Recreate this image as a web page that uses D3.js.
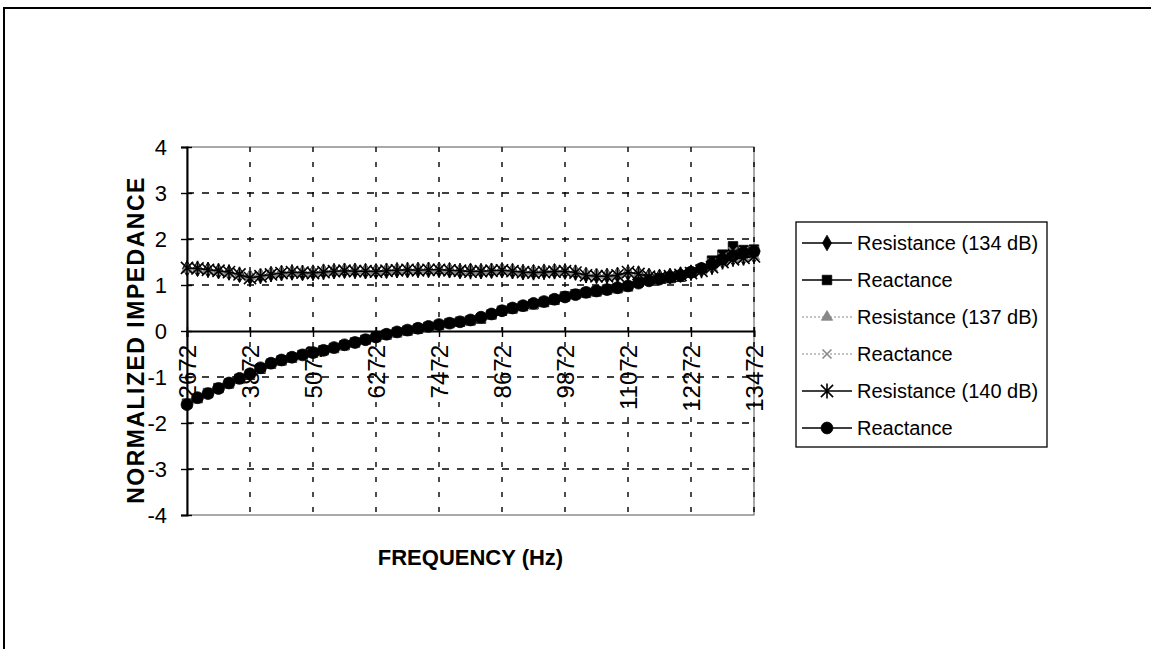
<!DOCTYPE html>
<html>
<head>
<meta charset="utf-8">
<script src="https://cdn.jsdelivr.net/npm/d3@7"></script>
<style>
  html, body { margin: 0; padding: 0; background: #fff; }
  svg { display: block; }
  text { font-family: Arial, "Liberation Sans", sans-serif; fill: #000; }
</style>
</head>
<body>
<svg id="chart" width="1151" height="649"></svg>
<script>
// Frequency categories (Hz)
const freqs = [2672, 2872, 3072, 3272, 3472, 3672, 3872, 4072, 4272, 4472, 4672, 4872,
  5072, 5272, 5472, 5672, 5872, 6072, 6272, 6472, 6672, 6872, 7072, 7272, 7472, 7672,
  7872, 8072, 8272, 8472, 8672, 8872, 9072, 9272, 9472, 9672, 9872, 10072, 10272, 10472,
  10672, 10872, 11072, 11272, 11472, 11672, 11872, 12072, 12272, 12472, 12672, 12872,
  13072, 13272, 13472];

const tickLabels = ["2672", "3872", "5072", "6272", "7472", "8672", "9872", "11072", "12272", "13472"];
const yTicks = [-4, -3, -2, -1, 0, 1, 2, 3, 4];

// Normalized impedance values
const res134 = [1.36, 1.35, 1.33, 1.30, 1.27, 1.22, 1.17, 1.20, 1.24, 1.26, 1.27, 1.26, 1.27, 1.29, 1.30,
  1.31, 1.31, 1.30, 1.30, 1.31, 1.32, 1.32, 1.33, 1.33, 1.33, 1.32, 1.30, 1.31, 1.30, 1.31, 1.32, 1.30,
  1.28, 1.28, 1.29, 1.30, 1.29, 1.27, 1.22, 1.20, 1.20, 1.22, 1.26, 1.25, 1.20, 1.18, 1.20, 1.23, 1.27,
  1.33, 1.40, 1.52, 1.58, 1.60, 1.64];
const react134 = [-1.58, -1.46, -1.35, -1.24, -1.14, -1.04, -0.95, -0.82, -0.71, -0.64, -0.58, -0.52,
  -0.47, -0.42, -0.37, -0.31, -0.25, -0.19, -0.13, -0.08, -0.03, 0.01, 0.05, 0.09, 0.13, 0.17, 0.20, 0.23,
  0.27, 0.36, 0.44, 0.49, 0.54, 0.58, 0.63, 0.68, 0.75, 0.80, 0.83, 0.86, 0.90, 0.93, 0.97, 1.07, 1.12,
  1.14, 1.15, 1.18, 1.27, 1.35, 1.53, 1.66, 1.84, 1.76, 1.77];
const res137 = [1.34, 1.34, 1.32, 1.29, 1.25, 1.21, 1.19, 1.22, 1.25, 1.27, 1.28, 1.28, 1.28, 1.30, 1.31,
  1.32, 1.32, 1.31, 1.30, 1.32, 1.33, 1.33, 1.34, 1.34, 1.34, 1.33, 1.31, 1.30, 1.31, 1.32, 1.33, 1.31,
  1.29, 1.29, 1.30, 1.31, 1.30, 1.28, 1.24, 1.22, 1.21, 1.23, 1.27, 1.24, 1.19, 1.17, 1.19, 1.22, 1.26,
  1.31, 1.38, 1.49, 1.56, 1.58, 1.62];
const react137 = [-1.59, -1.45, -1.35, -1.25, -1.14, -1.04, -0.94, -0.81, -0.71, -0.64, -0.58, -0.53,
  -0.48, -0.43, -0.37, -0.31, -0.26, -0.20, -0.14, -0.08, -0.03, 0.02, 0.06, 0.10, 0.14, 0.17, 0.21, 0.24,
  0.29, 0.37, 0.45, 0.50, 0.55, 0.59, 0.64, 0.69, 0.74, 0.79, 0.83, 0.87, 0.90, 0.94, 0.98, 1.05, 1.10,
  1.13, 1.16, 1.19, 1.27, 1.36, 1.48, 1.60, 1.72, 1.72, 1.74];
const res140 = [1.37, 1.36, 1.33, 1.31, 1.28, 1.23, 1.15, 1.19, 1.23, 1.26, 1.28, 1.27, 1.26, 1.28, 1.30,
  1.31, 1.30, 1.30, 1.29, 1.31, 1.32, 1.33, 1.32, 1.33, 1.33, 1.32, 1.31, 1.29, 1.30, 1.31, 1.32, 1.30,
  1.28, 1.27, 1.28, 1.29, 1.30, 1.27, 1.21, 1.19, 1.19, 1.21, 1.28, 1.24, 1.18, 1.16, 1.19, 1.22, 1.26,
  1.31, 1.39, 1.50, 1.56, 1.59, 1.62];
const react140 = [-1.60, -1.45, -1.36, -1.25, -1.13, -1.03, -0.93, -0.80, -0.70, -0.63, -0.57, -0.52,
  -0.47, -0.42, -0.36, -0.30, -0.25, -0.19, -0.13, -0.07, -0.02, 0.02, 0.06, 0.10, 0.14, 0.17, 0.20, 0.24,
  0.30, 0.37, 0.44, 0.50, 0.55, 0.60, 0.64, 0.69, 0.74, 0.79, 0.84, 0.87, 0.90, 0.94, 0.98, 1.04, 1.09,
  1.13, 1.17, 1.21, 1.28, 1.36, 1.45, 1.56, 1.64, 1.70, 1.73];

const seriesNames = ["Resistance (134 dB)", "Reactance", "Resistance (137 dB)", "Reactance",
  "Resistance (140 dB)", "Reactance"];
const seriesValues = [res134, react134, res137, react137, res140, react140];

// Custom asterisk marker: an X crossed by a vertical bar
const asterisk = {
  draw(ctx, size) {
    const r = Math.sqrt(size) * 0.62;
    const d = r * 0.8;
    ctx.moveTo(-d, -d); ctx.lineTo(d, d);
    ctx.moveTo(-d, d); ctx.lineTo(d, -d);
    ctx.moveTo(0, -r); ctx.lineTo(0, r);
  }
};
const cross = {
  draw(ctx, size) {
    const d = Math.sqrt(size) * 0.5;
    ctx.moveTo(-d, -d); ctx.lineTo(d, d);
    ctx.moveTo(-d, d); ctx.lineTo(d, -d);
  }
};

const styles = [
  { color: "#000", dash: null, width: 1.6, symbol: d3.symbolDiamond, size: 70, fill: true },
  { color: "#000", dash: null, width: 1.6, symbol: d3.symbolSquare, size: 90, fill: true },
  { color: "#888", dash: "2,2", width: 1.2, symbol: d3.symbolTriangle, size: 55, fill: true },
  { color: "#888", dash: "2,2", width: 1.2, symbol: cross, size: 80, fill: false },
  { color: "#000", dash: null, width: 1.6, symbol: asterisk, size: 150, fill: false },
  { color: "#000", dash: null, width: 1.6, symbol: d3.symbolCircle, size: 110, fill: true }
];

const svg = d3.select("#chart");

// Outer frame
svg.append("path")
  .attr("d", "M4,649 L4,8 L1151,8")
  .attr("fill", "none").attr("stroke", "#000").attr("stroke-width", 2);

const plot = { left: 187, right: 754, top: 147, bottom: 515 };

const x = d3.scalePoint().domain(freqs).range([plot.left, plot.right]);
const y = d3.scaleLinear().domain([-4, 4]).range([plot.bottom, plot.top]);

// Plot area border
svg.append("rect")
  .attr("x", plot.left).attr("y", plot.top)
  .attr("width", plot.right - plot.left).attr("height", plot.bottom - plot.top)
  .attr("fill", "none").attr("stroke", "#555").attr("stroke-width", 1);

// Horizontal dashed gridlines
svg.append("g").selectAll("line")
  .data(yTicks.filter(v => v !== 0 && v !== -4 && v !== 4))
  .join("line")
  .attr("x1", plot.left).attr("x2", plot.right)
  .attr("y1", d => y(d)).attr("y2", d => y(d))
  .attr("stroke", "#000").attr("stroke-width", 1.4)
  .attr("stroke-dasharray", "7,8");

// Vertical dashed gridlines at labelled frequencies
svg.append("g").selectAll("line")
  .data(tickLabels.slice(1).map(Number))
  .join("line")
  .attr("x1", d => x(d)).attr("x2", d => x(d))
  .attr("y1", plot.top).attr("y2", plot.bottom)
  .attr("stroke", "#000").attr("stroke-width", 1.4)
  .attr("stroke-dasharray", "5,10");

// Y axis with crossing ticks
const yAxis = d3.axisLeft(y).tickValues(yTicks).tickSize(6).tickPadding(14)
  .tickFormat(d => String(d));
const yg = svg.append("g").attr("transform", `translate(${plot.left},0)`).call(yAxis);
yg.select(".domain").attr("stroke", "#000").attr("stroke-width", 2);
yg.selectAll(".tick line").attr("x2", -6).attr("x1", 5).attr("stroke", "#000").attr("stroke-width", 1.4);
yg.selectAll(".tick text")
  .style("font-family", "Arial, 'Liberation Sans', sans-serif")
  .attr("font-size", 22).attr("fill", "#000");

// X axis crossing at zero
const xAxis = d3.axisBottom(x).tickValues(tickLabels.map(Number)).tickSize(6).tickPadding(0)
  .tickFormat(d => String(d));
const xg = svg.append("g").attr("transform", `translate(0,${y(0)})`).call(xAxis);
xg.select(".domain").attr("stroke", "#000").attr("stroke-width", 2);
xg.selectAll(".tick line").attr("y1", -4).attr("stroke", "#000").attr("stroke-width", 1.4);
xg.selectAll(".tick text")
  .style("font-family", "Arial, 'Liberation Sans', sans-serif")
  .attr("font-size", 24).attr("fill", "#000")
  .attr("text-anchor", "end")
  .attr("transform", "translate(0,14) rotate(-90)")
  .attr("x", 0).attr("y", 0).attr("dy", "0.36em");

// Series lines and markers
const line = d3.line().x((d, i) => x(freqs[i])).y(d => y(d));
seriesValues.forEach((vals, k) => {
  const st = styles[k];
  const g = svg.append("g");
  g.append("path").datum(vals)
    .attr("d", line)
    .attr("fill", "none").attr("stroke", st.color).attr("stroke-width", st.width)
    .attr("stroke-dasharray", st.dash);
  const sym = d3.symbol().type(st.symbol).size(st.size);
  g.selectAll("path.m").data(vals).join("path")
    .attr("class", "m")
    .attr("d", sym)
    .attr("transform", (d, i) => `translate(${x(freqs[i])},${y(d)})`)
    .attr("fill", st.fill ? st.color : "none")
    .attr("stroke", st.color)
    .attr("stroke-width", st.fill ? 0.8 : 1.6);
});

// Axis titles
svg.append("text")
  .attr("transform", `translate(144,340) rotate(-90)`)
  .attr("text-anchor", "middle")
  .attr("font-size", 23).attr("font-weight", "bold")
  .style("letter-spacing", "1.5px")
  .text("NORMALIZED IMPEDANCE");

svg.append("text")
  .attr("x", (plot.left + plot.right) / 2).attr("y", 565)
  .attr("text-anchor", "middle")
  .attr("font-size", 22).attr("font-weight", "bold")
  .text("FREQUENCY (Hz)");

// Legend
const legend = svg.append("g");
legend.append("rect")
  .attr("x", 796).attr("y", 222).attr("width", 251).attr("height", 225)
  .attr("fill", "#fff").attr("stroke", "#000").attr("stroke-width", 1.3);
const rowY = d3.scalePoint().domain(d3.range(seriesNames.length)).range([243, 428]);
seriesNames.forEach((name, k) => {
  const st = styles[k];
  const cy = rowY(k);
  legend.append("line")
    .attr("x1", 802).attr("x2", 852).attr("y1", cy).attr("y2", cy)
    .attr("stroke", st.color).attr("stroke-width", st.width)
    .attr("stroke-dasharray", st.dash);
  legend.append("path")
    .attr("d", d3.symbol().type(st.symbol).size(st.size)())
    .attr("transform", `translate(827,${cy})`)
    .attr("fill", st.fill ? st.color : "none")
    .attr("stroke", st.color)
    .attr("stroke-width", st.fill ? 0.8 : 1.6);
  legend.append("text")
    .attr("x", 857).attr("y", cy).attr("dy", "0.36em")
    .attr("font-size", 20)
    .text(name);
});
</script>
</body>
</html>
